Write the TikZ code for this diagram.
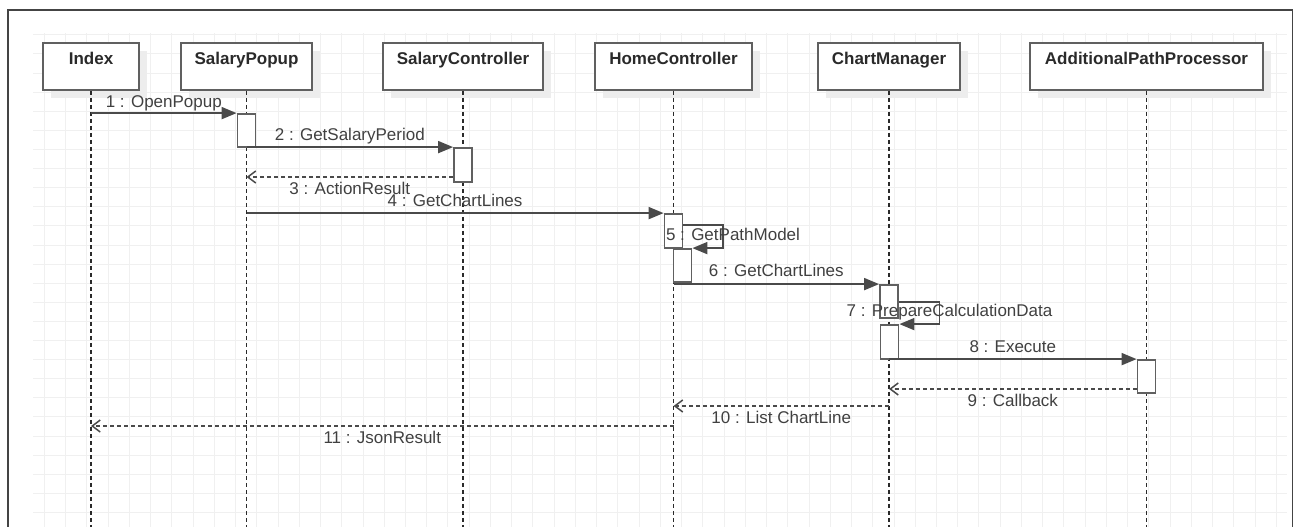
\documentclass[tikz,border=0pt]{standalone}
\usepackage{fontspec}
\setmainfont{Liberation Sans}
\usetikzlibrary{arrows.meta,shadows,calc}
\definecolor{gridc}{HTML}{F0F0F0}
\definecolor{linec}{HTML}{4A4A4A}
\definecolor{boxc}{HTML}{606060}
\definecolor{txtc}{HTML}{404040}
\definecolor{lifec}{HTML}{2A2A2A}
\definecolor{framec}{HTML}{444444}
\begin{document}
\begin{tikzpicture}[x=1pt,y=-1pt,
 actor/.style={draw=boxc, line width=1.8pt, fill=white, anchor=base, inner xsep=0pt, inner ysep=0pt,
   text height=21.5pt, text depth=25.5pt, font=\fontsize{17}{19}\selectfont\bfseries, text=lifec,
   general shadow={fill=black!7, shadow xshift=8pt, shadow yshift=-8pt}},
 act/.style={draw=boxc, line width=1.8pt, fill=white, minimum width=18pt, inner sep=0pt},
 life/.style={draw=lifec, line width=1.6pt, dash pattern=on 4pt off 3pt},
 msg/.style={draw=linec, line width=1.8pt, -{Triangle[length=15pt,width=12pt]}},
 ret/.style={draw=linec, line width=1.5pt, dash pattern=on 4pt off 3pt, -{Straight Barb[length=8pt,width=12pt]}},
 lbl/.style={text=txtc, font=\fontsize{17}{19}\selectfont, inner sep=0pt, anchor=base},
]
\useasboundingbox (0,0) rectangle (1295,527);
\clip (0,0) rectangle (1295,527);
% grid
\foreach \i in {0,...,58} \draw[gridc, line width=0.8pt] ({44.3+21.24*\i},33) -- ({44.3+21.24*\i},527);
\foreach \j in {0,...,25} \draw[gridc, line width=0.8pt] (33,{34.8+19.1*\j}) -- (1287,{34.8+19.1*\j});
% frame
\draw[framec, line width=1.5pt] (8,560) -- (8,10) -- (1292.5,10) -- (1292.5,560);
% actors
\node[actor, minimum width=96pt]  (idx) at (91,64.5)    {Index};
\node[actor, minimum width=131pt] (sp)  at (246.5,64.5) {SalaryPopup};
\node[actor, minimum width=160pt] (sc)  at (463,64.5)   {SalaryController};
\node[actor, minimum width=157pt] (hc)  at (673.5,64.5) {HomeController};
\node[actor, minimum width=142pt] (cm)  at (889,64.5)   {ChartManager};
\node[actor, minimum width=233pt] (app) at (1146.5,64.5){AdditionalPathProcessor};
% lifelines
\foreach \n in {idx,sp,sc,hc,cm,app} {
  \coordinate (\n-end) at (\n.south |- 0,540);
  \draw[life] (\n.south) -- (\n-end);
}
% activations
\node[act, minimum height=33pt] (ap1) at (246.5,130.5) {};
\node[act, minimum height=34pt] (as1) at (463,165) {};
\node[act, minimum height=34pt] (ah1) at (673.5,231) {};
\node[act, minimum height=33pt] (ah2) at (682.5,265.5) {};
\node[act, minimum height=33pt] (ac1) at (889,301.5) {};
\node[act, minimum height=34pt] (ac2) at (889.5,342) {};
\node[act, minimum height=33pt] (aa1) at (1146.5,376.5) {};
% messages
\draw[msg] (idx.south |- ap1.north) -- (ap1.north west)
  node[lbl, midway, yshift=6pt] (l1) {1 : OpenPopup};
\draw[msg] (sp.south |- as1.north) -- (as1.north west)
  node[lbl, midway, yshift=6.5pt] (l2) {2 : GetSalaryPeriod};
\draw[ret] (as1.west |- 0,177) -- (sp.south |- 0,177)
  node[lbl, midway, yshift=-17pt] (l3) {3 : ActionResult};
\draw[msg] (sp.south |- ah1.north) -- (ah1.north west)
  node[lbl, midway, yshift=6.5pt] (l4) {4 : GetChartLines};
\draw[msg] (ah1.east |- 0,225) -| ($(ah2.north east)+(30.5,0)$) -- (ah2.north east);
\node[lbl] (l5) at (733,240) {5 : GetPathModel};
\draw[msg] (hc.south |- ac1.north) -- (ac1.north west)
  node[lbl, midway, yshift=7.5pt] (l6) {6 : GetChartLines};
\draw[msg] (ac1.east |- 0,302) -| ($(ac2.north east)+(40,0)$) -- (ac2.north east);
\node[lbl] (l7) at (949.5,316.7) {7 : PrepareCalculationData};
\draw[msg] (cm.south |- aa1.north) -- (aa1.north west)
  node[lbl, midway, yshift=7pt] (l8) {8 : Execute};
\draw[ret] (aa1.west |- 0,389) -- (cm.south |- 0,389)
  node[lbl, midway, yshift=-17.5pt] (l9) {9 : Callback};
\draw[ret] (cm.south |- 0,406) -- (hc.south |- 0,406)
  node[lbl, midway, yshift=-17pt] (l10) {10 : List ChartLine};
\draw[ret] (hc.south |- 0,426) -- (idx.south |- 0,426)
  node[lbl, midway, yshift=-17pt] (l11) {11 : JsonResult};
\end{tikzpicture}
\end{document}
